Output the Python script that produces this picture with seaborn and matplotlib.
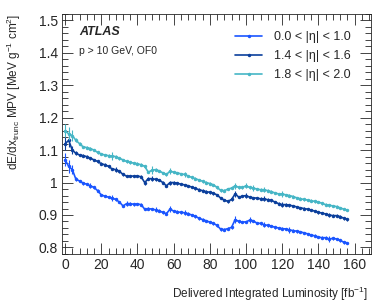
import numpy as np
import pandas as pd
import seaborn as sns
import matplotlib.pyplot as plt
from matplotlib.ticker import MultipleLocator

# delivered integrated luminosity [fb^-1]
lumi = list(range(0, 158, 2))

# dE/dx MPV per eta region
mpv_00_10 = [1.07, 1.05, 1.04, 1.01, 1.005, 0.998, 0.995, 0.99, 0.985, 0.975,
             0.962, 0.958, 0.955, 0.952, 0.948, 0.94, 0.928, 0.935, 0.935, 0.933,
             0.934, 0.932, 0.918, 0.92, 0.918, 0.916, 0.913, 0.908, 0.904, 0.918,
             0.912, 0.91, 0.908, 0.907, 0.904, 0.9, 0.896, 0.89, 0.886, 0.882,
             0.878, 0.874, 0.868, 0.856, 0.855, 0.858, 0.862, 0.886, 0.88, 0.878,
             0.879, 0.884, 0.882, 0.875, 0.874, 0.87, 0.868, 0.866, 0.862, 0.86,
             0.858, 0.857, 0.854, 0.852, 0.85, 0.848, 0.845, 0.842, 0.838, 0.836,
             0.832, 0.83, 0.83, 0.826, 0.828, 0.826, 0.822, 0.816, 0.814]
mpv_14_16 = [1.12, 1.13, 1.10, 1.09, 1.085, 1.083, 1.08, 1.075, 1.07, 1.065,
             1.058, 1.055, 1.05, 1.042, 1.04, 1.035, 1.025, 1.02, 1.02, 1.02,
             1.02, 1.018, 1.0, 1.012, 1.012, 1.01, 1.008, 1.0, 0.99, 1.0,
             1.0, 0.998, 0.995, 0.993, 0.99, 0.986, 0.982, 0.978, 0.975, 0.972,
             0.97, 0.967, 0.962, 0.952, 0.946, 0.942, 0.948, 0.965, 0.955, 0.958,
             0.96, 0.955, 0.953, 0.952, 0.95, 0.95, 0.947, 0.945, 0.94, 0.935,
             0.932, 0.932, 0.93, 0.928, 0.925, 0.922, 0.92, 0.918, 0.915, 0.912,
             0.908, 0.906, 0.903, 0.9, 0.898, 0.898, 0.895, 0.89, 0.887]
mpv_18_20 = [1.16, 1.15, 1.145, 1.13, 1.12, 1.11, 1.108, 1.105, 1.1, 1.093,
             1.088, 1.085, 1.083, 1.082, 1.08, 1.075, 1.07, 1.065, 1.062, 1.06,
             1.058, 1.055, 1.05, 1.032, 1.038, 1.04, 1.036, 1.03, 1.025, 1.035,
             1.032, 1.03, 1.027, 1.025, 1.02, 1.016, 1.012, 1.008, 1.004, 1.0,
             0.997, 0.993, 0.985, 0.976, 0.975, 0.98, 0.983, 0.99, 0.985, 0.985,
             0.99, 0.985, 0.983, 0.98, 0.978, 0.978, 0.975, 0.972, 0.968, 0.965,
             0.965, 0.962, 0.96, 0.957, 0.953, 0.95, 0.948, 0.946, 0.944, 0.942,
             0.94, 0.936, 0.932, 0.93, 0.928, 0.926, 0.922, 0.918, 0.915]

# statistical uncertainties
err_00_10 = [0.02, 0.02, 0.015, 0.006, 0.004, 0.004, 0.004, 0.008, 0.004, 0.004,
             0.004, 0.004, 0.004, 0.01, 0.004, 0.004, 0.004, 0.008, 0.004, 0.004,
             0.004, 0.004, 0.004, 0.004, 0.004, 0.008, 0.004, 0.004, 0.004, 0.01,
             0.004, 0.004, 0.004, 0.008, 0.004, 0.004, 0.004, 0.004, 0.004, 0.004,
             0.004, 0.004, 0.004, 0.004, 0.004, 0.004, 0.004, 0.01, 0.004, 0.004,
             0.004, 0.01, 0.004, 0.004, 0.004, 0.008, 0.004, 0.004, 0.004, 0.004,
             0.004, 0.004, 0.008, 0.004, 0.004, 0.004, 0.004, 0.004, 0.004, 0.004,
             0.004, 0.004, 0.004, 0.008, 0.004, 0.004, 0.004, 0.004, 0.004]
err_14_16 = [0.02, 0.02, 0.012, 0.006, 0.004, 0.004, 0.004, 0.004, 0.004, 0.004,
             0.004, 0.004, 0.004, 0.004, 0.008, 0.004, 0.004, 0.004, 0.004, 0.004,
             0.004, 0.004, 0.006, 0.004, 0.008, 0.004, 0.004, 0.004, 0.004, 0.006,
             0.004, 0.004, 0.004, 0.004, 0.004, 0.004, 0.004, 0.004, 0.004, 0.004,
             0.004, 0.004, 0.004, 0.004, 0.004, 0.004, 0.004, 0.01, 0.004, 0.004,
             0.008, 0.004, 0.004, 0.004, 0.004, 0.008, 0.004, 0.004, 0.004, 0.004,
             0.008, 0.004, 0.004, 0.004, 0.004, 0.004, 0.004, 0.004, 0.004, 0.004,
             0.004, 0.004, 0.004, 0.006, 0.004, 0.004, 0.004, 0.004, 0.004]
err_18_20 = [0.02, 0.02, 0.018, 0.006, 0.004, 0.004, 0.004, 0.004, 0.004, 0.004,
             0.004, 0.004, 0.004, 0.012, 0.004, 0.004, 0.004, 0.004, 0.004, 0.004,
             0.004, 0.004, 0.004, 0.004, 0.012, 0.004, 0.004, 0.004, 0.004, 0.01,
             0.004, 0.004, 0.004, 0.008, 0.004, 0.004, 0.004, 0.004, 0.004, 0.004,
             0.004, 0.004, 0.004, 0.004, 0.004, 0.004, 0.004, 0.01, 0.004, 0.004,
             0.008, 0.004, 0.008, 0.004, 0.004, 0.008, 0.004, 0.004, 0.004, 0.004,
             0.01, 0.004, 0.004, 0.004, 0.004, 0.004, 0.004, 0.004, 0.004, 0.004,
             0.004, 0.004, 0.004, 0.004, 0.004, 0.004, 0.004, 0.004, 0.004]

labels = ['0.0 < |η| < 1.0', '1.4 < |η| < 1.6', '1.8 < |η| < 2.0']
colors = ['#1a55ff', '#0b3f9c', '#46b6c6']

sns.set_style('ticks')
plt.rcParams['font.family'] = ['Liberation Sans', 'DejaVu Sans']
plt.rcParams['mathtext.fontset'] = 'custom'
plt.rcParams['mathtext.rm'] = 'Liberation Sans'
plt.rcParams['mathtext.it'] = 'Liberation Sans:italic'

df = pd.DataFrame({
    'lumi': lumi * 3,
    'mpv': mpv_00_10 + mpv_14_16 + mpv_18_20,
    'err': err_00_10 + err_14_16 + err_18_20,
    'region': [labels[0]] * len(lumi) + [labels[1]] * len(lumi) + [labels[2]] * len(lumi),
})

fig = plt.figure(figsize=(3.9, 3.03), dpi=100)
ax = fig.add_axes([0.159, 0.162, 0.792, 0.792])

sns.lineplot(data=df, x='lumi', y='mpv', hue='region', hue_order=labels,
             palette=colors, marker='o', markersize=2.5, markeredgewidth=0,
             linewidth=1.2, ax=ax)
for lab, col in zip(labels, colors):
    sub = df[df['region'] == lab]
    ax.errorbar(sub['lumi'], sub['mpv'], yerr=sub['err'], fmt='none',
                ecolor=col, elinewidth=0.8)

ax.set_xlim(-1.7, 169)
ax.set_ylim(0.78, 1.52)
ax.xaxis.set_major_locator(MultipleLocator(20))
ax.xaxis.set_minor_locator(MultipleLocator(4))
ax.yaxis.set_major_locator(MultipleLocator(0.1))
ax.yaxis.set_minor_locator(MultipleLocator(0.02))
ax.set_yticks([0.8, 0.9, 1.0, 1.1, 1.2, 1.3, 1.4, 1.5])
ax.set_yticklabels(['0.8', '0.9', '1', '1.1', '1.2', '1.3', '1.4', '1.5'])
ax.tick_params(which='both', direction='in', top=True, right=True,
               labelsize=10, width=0.6, pad=3)
ax.tick_params(which='major', length=8)
ax.tick_params(which='minor', length=4)
for sp in ax.spines.values():
    sp.set_linewidth(0.6)

ax.set_xlabel(r'Delivered Integrated Luminosity [fb$^{-1}$]', fontsize=8.5,
              loc='right')
ax.xaxis.set_label_coords(0.99, -0.13)
ax.set_ylabel(r'dE/dx$_{\mathrm{trunc}}$ MPV [MeV g$^{-1}$ cm$^{2}$]',
              fontsize=8.5, loc='top')
ax.yaxis.set_label_coords(-0.125, 1.0)

ax.text(0.055, 0.925, 'ATLAS', transform=ax.transAxes, fontsize=9,
        fontweight='bold', fontstyle='italic', va='center')
ax.text(0.055, 0.845, 'p > 10 GeV, OF0', transform=ax.transAxes, fontsize=7.5,
        va='center')

leg = ax.legend(loc='upper right', bbox_to_anchor=(0.97, 0.975), frameon=False,
                fontsize=9, handlelength=2.2, handletextpad=0.9,
                labelspacing=0.55)

fig.savefig('out.png', dpi=100)
